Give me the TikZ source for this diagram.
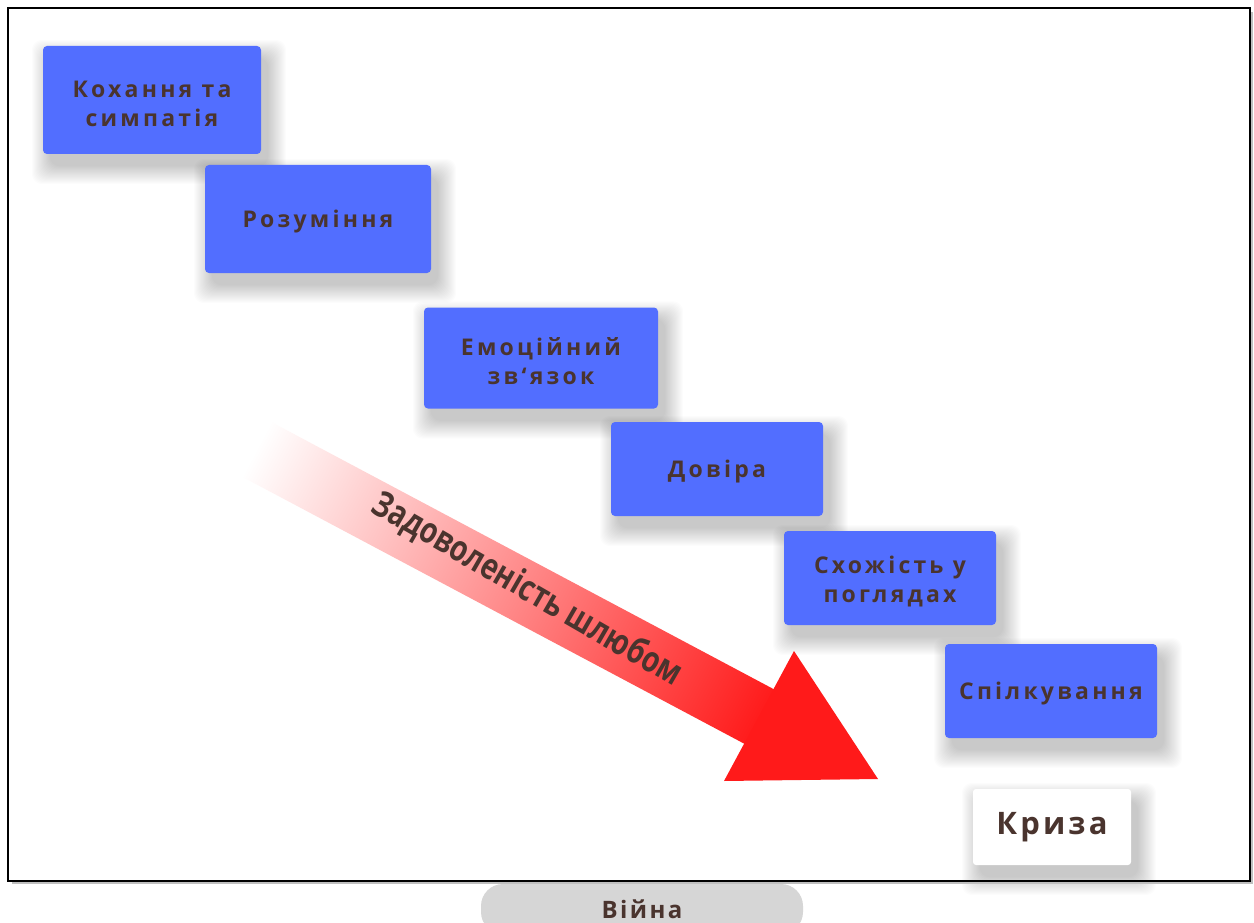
\documentclass[tikz,border=0pt]{standalone}
\usepackage{fontspec}
\setmainfont{Open Sans}
\newfontfamily\boxfont[LetterSpace=14]{Open Sans}
\newfontfamily\krfont[LetterSpace=10]{Open Sans}
\newfontfamily\arrowfont[LetterSpace=0]{Open Sans}
\usetikzlibrary{backgrounds}
\definecolor{boxblue}{RGB}{82,110,255}
\definecolor{txt}{RGB}{74,52,46}
\definecolor{arrred}{RGB}{255,26,26}
\definecolor{pill}{RGB}{214,214,214}
\newcommand{\softshade}[1]{%
  \foreach \k in {1,...,18}{%
    \pgfmathsetmacro{\e}{19-1.05*\k}%
    \fill[black, opacity=0.013, rounded corners=10pt]
      ([shift={(7-\e,12-\e)}]#1.north west) rectangle ([shift={(7+\e,12+\e)}]#1.south east);
  }}
\begin{document}
\begin{tikzpicture}[x=1pt,y=-1pt,
  stage/.style={fill=boxblue, rounded corners=4pt, inner sep=0pt, align=center, text=txt,
    text height=22pt, font=\boxfont\bfseries\fontsize{23}{29}\selectfont},
  stagetwo/.style={stage, text height=54pt},
  crisis/.style={fill=white, rounded corners=3pt, inner sep=0pt, text=txt,
    font=\krfont\bfseries\fontsize{31}{36}\selectfont},
  warpill/.style={fill=pill, rounded corners=22pt, inner sep=0pt, text=txt,
    font=\krfont\bfseries\fontsize{24}{28}\selectfont}]
\useasboundingbox (0,0) rectangle (1254,923);

% frame
\draw[gray!50, line width=2pt] (12,883) -- (1252,883) -- (1252,12);
\draw[black, line width=2pt] (8,8) rectangle (1250,881);

% war pill
\node[warpill, minimum width=322pt, minimum height=50pt] (war) at (642,909) {Війна};

% arrow shaft
\begin{scope}[transform canvas={shift={(256pt,-449pt)}, rotate=-28}]
  \shade[left color=white, middle color=arrred!35!white, right color=arrred] (0,-31) rectangle (575,31);
\end{scope}
% arrow head
\coordinate (htop) at (794,651);
\coordinate (htip) at (878,779);
\coordinate (hleft) at (724,781);
\fill[arrred] (htop) -- (htip) -- (hleft) -- cycle;

\begin{scope}[shift={(527,590)}, rotate=-30, xscale=0.78]
  \node[transform shape, text=txt, font=\arrowfont\bfseries\fontsize{36}{40}\selectfont] (sat) at (0,0) {Задоволеність шлюбом};
\end{scope}

% stages
\node[stagetwo, minimum width=218pt, minimum height=108pt] (love) at (152,100) {Кохання та\\симпатія};
\node[stage, minimum width=226pt, minimum height=108pt] (underst) at (318,219) {Розуміння};
\node[stagetwo, minimum width=234pt, minimum height=101pt] (emo) at (541,358) {Емоційний\\зв‘язок};
\node[stage, minimum width=212pt, minimum height=94pt] (trust) at (717,469) {Довіра};
\node[stagetwo, minimum width=212pt, minimum height=94pt] (views) at (890,578) {Схожість у\\поглядах};
\node[stage, minimum width=212pt, minimum height=94pt] (comm) at (1051,691) {Спілкування};

\node[crisis, minimum width=158pt, minimum height=76pt] (crisis) at (1052,827) {Криза};

\begin{scope}[on background layer]
  \fill[white] (0,0) rectangle (1254,923);
  \softshade{love}
  \softshade{underst}
  \softshade{emo}
  \softshade{trust}
  \softshade{views}
  \softshade{comm}
  \softshade{crisis}
\end{scope}
\end{tikzpicture}
\end{document}
